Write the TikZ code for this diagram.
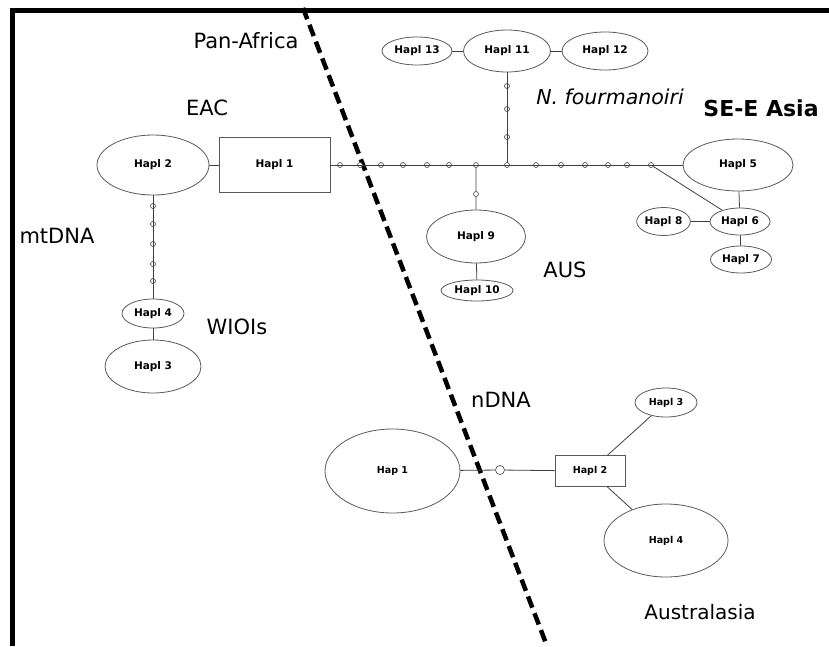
\documentclass[tikz,border=0pt]{standalone}
\usepackage{fontspec}
\setmainfont{DejaVu Sans}
\usetikzlibrary{shapes.geometric}
\begin{document}
\begin{tikzpicture}[x=1pt, y=-1pt,
    hapl/.style={ellipse, draw=black!65, line width=0.8pt, inner sep=0pt, font=\bfseries\fontsize{10.5}{12}\selectfont},
    hbox/.style={rectangle, draw=black!65, line width=0.8pt, inner sep=0pt, font=\bfseries\fontsize{10.5}{12}\selectfont},
    small/.style={font=\bfseries\fontsize{9.5}{11}\selectfont},
    mut/.style={circle, draw=black!75, fill=white, line width=0.6pt, minimum size=5pt, inner sep=0pt},
    link/.style={draw=black!75, line width=0.8pt},
    region/.style={font=\fontsize{21}{25}\selectfont}]
  \useasboundingbox (0,0) rectangle (829,646);
  % frame and divider
  \draw[line width=5pt] (12,646) -- (12,10) -- (829,10);
  \coordinate (cuttop) at (303,8);
  \coordinate (cutbot) at (547,646);
  \draw[line width=4.5pt, dash pattern=on 12pt off 6pt] (cuttop) -- (cutbot);

  % mtDNA
  \node (h2) [hapl, minimum width=112pt, minimum height=60pt] at (153,165) {Hapl 2};
  \node (h1) [hbox, minimum width=111pt, minimum height=55pt] at (274.5,165) {Hapl 1};
  \node (h4) [hapl, minimum width=62pt, minimum height=29pt] at (153,313.5) {Hapl 4};
  \node (h3) [hapl, minimum width=96pt, minimum height=53pt] at (153,366.5) {Hapl 3};
  \node (h9) [hapl, minimum width=99pt, minimum height=53pt] at (476,236.5) {Hapl 9};
  \node (h10) [hapl, minimum width=72pt, minimum height=21pt] at (477,290.5) {Hapl 10};
  \node (h11) [hapl, minimum width=87pt, minimum height=42pt] at (507,51) {Hapl 11};
  \node (h13) [hapl, minimum width=70pt, minimum height=28pt] at (417,51) {Hapl 13};
  \node (h12) [hapl, minimum width=86pt, minimum height=38pt] at (605,51) {Hapl 12};
  \node (h5) [hapl, minimum width=110pt, minimum height=52pt] at (738,165) {Hapl 5};
  \node (h6) [hapl, minimum width=60pt, minimum height=27pt] at (740,221.5) {Hapl 6};
  \node (h8) [hapl, minimum width=53pt, minimum height=28pt] at (663.5,221.5) {Hapl 8};
  \node (h7) [hapl, minimum width=61pt, minimum height=27pt] at (741,259.5) {Hapl 7};

  % mutational steps
  \foreach \x [count=\i] in {340,360,381,403,427,449,476,507,536,561,585,608,627,651}
    \node (m\i) [mut] at (\x,165) {};
  \foreach \y [count=\i] in {206,224,244,264,281}
    \node (v\i) [mut] at (153,\y) {};
  \foreach \y [count=\i] in {137,109,86}
    \node (u\i) [mut] at (507,\y) {};
  \node (d1) [mut] at (476,194) {};

  \draw[link] (h2) -- (h1);
  \draw[link] (h1) \foreach \i in {1,...,14} {-- (m\i)} -- (h5);
  \draw[link] (h2) \foreach \i in {1,...,5} {-- (v\i)} -- (h4) -- (h3);
  \draw[link] (m8) \foreach \i in {1,...,3} {-- (u\i)} -- (h11);
  \draw[link] (m7) -- (d1) -- (h9) -- (h10);
  \draw[link] (h13) -- (h11) -- (h12);
  \draw[link] (h5) -- (h6) -- (h7);
  \draw[link] (h8) -- (h6);
  \draw[link] (m14) -- (h6);

  % nDNA
  \node (n1) [hapl, small, minimum width=135pt, minimum height=84pt] at (392.5,471) {Hap 1};
  \node (n2) [hbox, small, minimum width=70pt, minimum height=31pt] at (590,471) {Hapl 2};
  \node (n3) [hapl, small, minimum width=62pt, minimum height=29pt] at (666,402.5) {Hapl 3};
  \node (n4) [hapl, small, minimum width=124pt, minimum height=73pt] at (666,540.5) {Hapl 4};
  \node (ns) [mut, minimum size=9pt] at (500,470) {};
  \draw[link] (n1) -- (ns) -- (n2);
  \draw[link] (n2) -- (n3);
  \draw[link] (n2) -- (n4);

  % regions
  \node (panafrica) [region] at (246,41) {Pan-Africa};
  \node (eac) [region] at (207,108) {EAC};
  \node (mtdna) [region] at (57,236) {mtDNA};
  \node (wiois) [region] at (237,327) {WIOIs};
  \node (fourm) [region, font=\itshape\fontsize{20.5}{25}\selectfont] at (610,97) {N. fourmanoiri};
  \node (seasia) [region, font=\bfseries\fontsize{22}{26}\selectfont] at (761,108) {SE-E Asia};
  \node (aus) [region] at (565,270) {AUS};
  \node (ndna) [region] at (501,400) {nDNA};
  \node (austral) [region, font=\fontsize{20}{24}\selectfont] at (700,612) {Australasia};
\end{tikzpicture}
\end{document}
